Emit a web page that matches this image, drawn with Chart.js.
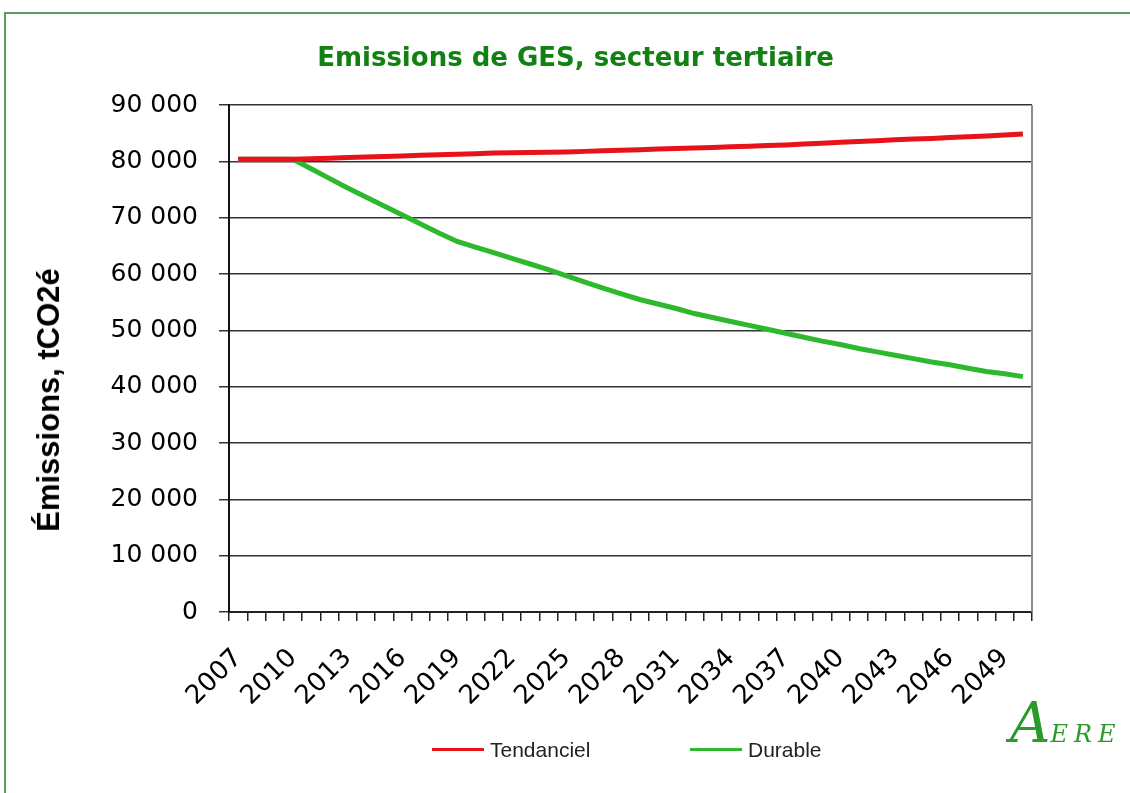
<!DOCTYPE html>
<html>
<head>
<meta charset="utf-8">
<script src="https://cdn.jsdelivr.net/npm/chart.js@4/dist/chart.umd.min.js"></script>
<style>
  body { margin: 0; background: #fff; width: 1130px; height: 793px; overflow: hidden; position: relative; }
  #frame { position: absolute; left: 4px; top: 12px; width: 1140px; height: 800px; border: 2px solid #5a9a5a; box-sizing: border-box; }
  #wrap { position: absolute; left: 0; top: 0; width: 1151px; height: 793px; }
  #ytitle { position: absolute; left: 49px; top: 400px; transform: translate(-50%, -50%) rotate(-90deg);
    font: bold 31px "Liberation Sans", Arial, sans-serif; color: #000; white-space: nowrap; }
  .leg { position: absolute; top: 738px; font: 21px "Liberation Sans", Arial, sans-serif; color: #222; white-space: nowrap; }
  .leg span { display: inline-block; width: 52px; height: 3px; vertical-align: middle; margin-right: 6px; position: relative; top: -2px; }
  #logo { position: absolute; left: 1010px; top: 690px; color: #2a9a2a; font-family: "DejaVu Serif", serif; font-style: italic; white-space: nowrap; }
  #logo .a { font-size: 56px; }
  #logo .r { font-size: 24px; letter-spacing: 6px; }
</style>
</head>
<body>
<div id="frame"></div>
<div id="wrap"><canvas id="chart"></canvas></div>
<div id="ytitle">Émissions, tCO2é</div>
<div class="leg" style="left:432px"><span style="background:#e8121a"></span>Tendanciel</div>
<div class="leg" style="left:690px"><span style="background:#2db82d"></span>Durable</div>
<div id="logo"><span class="a">A</span><span class="r">ERE</span></div>
<script>
const years = [
  2007, 2008, 2009, 2010, 2011, 2012, 2013, 2014, 2015, 2016, 2017,
  2018, 2019, 2020, 2021, 2022, 2023, 2024, 2025, 2026, 2027, 2028,
  2029, 2030, 2031, 2032, 2033, 2034, 2035, 2036, 2037, 2038, 2039,
  2040, 2041, 2042, 2043, 2044, 2045, 2046, 2047, 2048, 2049, 2050
];

const tendanciel = [
  80400, 80400, 80400, 80400, 80500, 80600, 80700, 80800, 80900, 81000, 81100,
  81200, 81300, 81400, 81500, 81550, 81600, 81650, 81700, 81800, 81900, 82000,
  82100, 82200, 82300, 82400, 82500, 82600, 82700, 82850, 82950, 83100, 83250,
  83400, 83550, 83700, 83850, 84000, 84100, 84250, 84400, 84550, 84700, 84900
];

const durable = [
  80400, 80400, 80400, 80400, 78700, 77000, 75300, 73700, 72100, 70500, 68900,
  67300, 65800, 64800, 63800, 62800, 61800, 60800, 59700, 58600, 57500, 56500,
  55500, 54700, 53900, 53000, 52300, 51600, 50900, 50200, 49500, 48800, 48100,
  47500, 46800, 46200, 45600, 45000, 44400, 43900, 43300, 42700, 42300, 41800
];

const yTicks = [0, 10000, 20000, 30000, 40000, 50000, 60000, 70000, 80000, 90000];

function formatNumber(v) {
    return v.toString().replace(/\B(?=(\d{3})+(?!\d))/g, ' ');
}

// bord droit de la zone de tracé
const areaBorder = {
    id: 'areaBorder',
    afterDraw(chart) {
        const a = chart.chartArea;
        const ctx = chart.ctx;
        ctx.save();
        ctx.strokeStyle = '#8a8a8a';
        ctx.lineWidth = 2;
        ctx.beginPath();
        ctx.moveTo(a.right, a.top);
        ctx.lineTo(a.right, a.bottom);
        ctx.stroke();
        ctx.restore();
    }
};

const ctx = document.getElementById('chart').getContext('2d');
new Chart(ctx, {
    type: 'line',
    data: {
        labels: years,
        datasets: [{
            label: 'Tendanciel',
            data: tendanciel,
            borderColor: '#e8121a',
            borderWidth: 5,
            pointRadius: 0,
            tension: 0
        }, {
            label: 'Durable',
            data: durable,
            borderColor: '#2db82d',
            borderWidth: 5,
            pointRadius: 0,
            tension: 0
        }]
    },
    options: {
        responsive: true,
        maintainAspectRatio: false,
        animation: false,
        layout: { padding: { left: 0, right: 0, top: 0, bottom: 81 } },
        plugins: {
            legend: { display: false },
            tooltip: { enabled: false },
            title: {
                display: true,
                text: 'Emissions de GES, secteur tertiaire',
                color: '#138013',
                font: { family: 'DejaVu Sans', size: 26, weight: 'bold' },
                padding: { top: 44, bottom: 30 }
            }
        },
        scales: {
            x: {
                offset: true,
                grid: { display: true, drawOnChartArea: false, offset: true, color: '#222', lineWidth: 1.5, tickLength: 9 },
                border: { color: '#222', width: 2 },
                ticks: {
                    autoSkip: false,
                    minRotation: 45,
                    maxRotation: 45,
                    padding: 22,
                    color: '#000',
                    font: { family: 'DejaVu Sans', size: 26 },
                    callback: function(value, index) {
                        return index % 3 === 0 ? years[index] : '';
                    }
                },
                afterFit: function(scale) { scale.height = 100; }
            },
            y: {
                min: 0,
                max: 90000,
                afterBuildTicks: function(scale) {
                    scale.ticks = yTicks.map(v => ({ value: v }));
                },
                grid: { color: '#333', lineWidth: 1.5, tickLength: 10 },
                border: { color: '#111', width: 2 },
                ticks: {
                    padding: 21,
                    color: '#000',
                    font: { family: 'DejaVu Sans', size: 25 },
                    callback: function(value) { return formatNumber(value); }
                },
                afterFit: function(scale) { scale.width = 229; }
            },
            // axe vide à droite : réserve la marge droite sans décaler le titre
            marge: {
                type: 'linear',
                position: 'right',
                grid: { display: false },
                border: { display: false },
                ticks: { display: false },
                afterFit: function(scale) { scale.width = 119; }
            }
        }
    },
    plugins: [areaBorder]
});
</script>
</body>
</html>
